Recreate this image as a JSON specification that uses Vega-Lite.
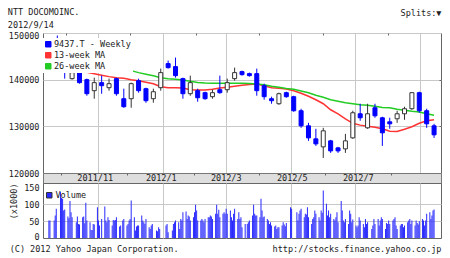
{
"$schema": "https://vega.github.io/schema/vega-lite/v6.json",
"background": "white",
"padding": {"left": 7, "right": 10, "top": 8, "bottom": 0},
"spacing": 0,
"bounds": "flush",
"title": {"text": "NTT DOCOMOINC.", "subtitle": "2012/9/14", "anchor": "start", "frame": "bounds", "offset": -21, "subtitlePadding": 4},
"datasets": {
"weekly": [
{"d":"2011-09-16","o":144090,"h":146020,"l":143660,"c":145590},
{"d":"2011-09-23","o":146500,"h":149460,"l":142800,"c":143800},
{"d":"2011-09-30","o":144800,"h":145600,"l":140220,"c":142800},
{"d":"2011-10-07","o":140220,"h":142370,"l":140000,"c":141510},
{"d":"2011-10-14","o":142150,"h":142370,"l":139140,"c":139360},
{"d":"2011-10-21","o":140000,"h":140220,"l":136560,"c":136990},
{"d":"2011-10-28","o":137640,"h":140430,"l":135920,"c":139360},
{"d":"2011-11-04","o":139360,"h":140860,"l":136990,"c":138710},
{"d":"2011-11-11","o":138280,"h":140220,"l":137640,"c":139140},
{"d":"2011-11-18","o":140220,"h":140430,"l":136560,"c":136990},
{"d":"2011-11-25","o":135920,"h":138070,"l":133980,"c":134200},
{"d":"2011-12-02","o":135920,"h":139360,"l":133980,"c":139140},
{"d":"2011-12-09","o":139790,"h":140220,"l":137210,"c":137640},
{"d":"2011-12-16","o":138070,"h":138280,"l":135060,"c":135490},
{"d":"2011-12-23","o":135920,"h":138070,"l":135060,"c":137420},
{"d":"2011-12-30","o":138280,"h":142370,"l":137640,"c":141510},
{"d":"2012-01-06","o":143440,"h":144090,"l":142370,"c":142580},
{"d":"2012-01-13","o":142800,"h":144730,"l":140430,"c":140860},
{"d":"2012-01-20","o":140220,"h":140430,"l":135920,"c":136990},
{"d":"2012-01-27","o":136990,"h":140860,"l":136560,"c":139360},
{"d":"2012-02-03","o":137640,"h":138070,"l":135270,"c":136130},
{"d":"2012-02-10","o":137210,"h":137420,"l":135700,"c":135920},
{"d":"2012-02-17","o":136350,"h":137850,"l":135920,"c":137210},
{"d":"2012-02-24","o":137850,"h":140860,"l":136990,"c":137210},
{"d":"2012-03-02","o":137850,"h":140220,"l":137210,"c":139360},
{"d":"2012-03-09","o":140220,"h":142580,"l":139790,"c":141510},
{"d":"2012-03-16","o":141720,"h":141940,"l":140860,"c":141080},
{"d":"2012-03-23","o":141290,"h":141510,"l":140650,"c":140860},
{"d":"2012-03-30","o":141290,"h":142370,"l":136560,"c":137640},
{"d":"2012-04-06","o":138710,"h":139140,"l":135700,"c":136350},
{"d":"2012-04-13","o":135920,"h":136350,"l":134840,"c":135490},
{"d":"2012-04-20","o":134840,"h":137210,"l":134630,"c":136990},
{"d":"2012-04-27","o":137210,"h":137420,"l":136130,"c":136350},
{"d":"2012-05-04","o":136350,"h":136560,"l":133120,"c":133340},
{"d":"2012-05-11","o":133340,"h":133770,"l":129680,"c":130110},
{"d":"2012-05-18","o":130110,"h":130760,"l":126890,"c":127530},
{"d":"2012-05-25","o":127320,"h":129470,"l":125810,"c":126240},
{"d":"2012-06-01","o":125600,"h":129680,"l":123230,"c":129040},
{"d":"2012-06-08","o":126890,"h":127100,"l":124310,"c":124740},
{"d":"2012-06-15","o":125380,"h":125600,"l":124310,"c":124740},
{"d":"2012-06-22","o":125170,"h":128390,"l":124310,"c":126890},
{"d":"2012-06-29","o":127530,"h":133340,"l":127320,"c":132910},
{"d":"2012-07-06","o":132690,"h":134840,"l":131190,"c":131830},
{"d":"2012-07-13","o":129680,"h":134840,"l":129470,"c":132690},
{"d":"2012-07-20","o":133980,"h":134840,"l":131830,"c":132260},
{"d":"2012-07-27","o":131830,"h":132050,"l":125810,"c":128610},
{"d":"2012-08-03","o":130970,"h":131830,"l":129470,"c":130540},
{"d":"2012-08-10","o":131620,"h":133340,"l":130760,"c":132690},
{"d":"2012-08-17","o":132690,"h":134200,"l":131400,"c":133770},
{"d":"2012-08-24","o":133770,"h":137210,"l":133550,"c":137210},
{"d":"2012-08-31","o":137210,"h":137420,"l":132910,"c":133340},
{"d":"2012-09-07","o":133340,"h":133770,"l":129680,"c":130540},
{"d":"2012-09-14","o":130110,"h":130540,"l":127530,"c":128180}
],
"ma": [
{"d":"2011-09-16","s":"13-week MA","v":141760},{"d":"2011-09-23","s":"13-week MA","v":141980},{"d":"2011-09-30","s":"13-week MA","v":142150},{"d":"2011-10-07","s":"13-week MA","v":142110},{"d":"2011-10-14","s":"13-week MA","v":141940},{"d":"2011-10-21","s":"13-week MA","v":141610},{"d":"2011-10-28","s":"13-week MA","v":141290},{"d":"2011-11-04","s":"13-week MA","v":140970},{"d":"2011-11-11","s":"13-week MA","v":140650},{"d":"2011-11-18","s":"13-week MA","v":140430},{"d":"2011-11-25","s":"13-week MA","v":140280},{"d":"2011-12-02","s":"13-week MA","v":140000},{"d":"2011-12-09","s":"13-week MA","v":139790},{"d":"2011-12-16","s":"13-week MA","v":139460},{"d":"2011-12-23","s":"13-week MA","v":139140},{"d":"2011-12-30","s":"13-week MA","v":138500},{"d":"2012-01-06","s":"13-week MA","v":138280},{"d":"2012-01-13","s":"13-week MA","v":138280},{"d":"2012-01-20","s":"13-week MA","v":138220},{"d":"2012-01-27","s":"13-week MA","v":137850},{"d":"2012-02-03","s":"13-week MA","v":137790},{"d":"2012-02-10","s":"13-week MA","v":137790},{"d":"2012-02-17","s":"13-week MA","v":137960},{"d":"2012-02-24","s":"13-week MA","v":138220},{"d":"2012-03-02","s":"13-week MA","v":138390},{"d":"2012-03-09","s":"13-week MA","v":138600},{"d":"2012-03-16","s":"13-week MA","v":138820},{"d":"2012-03-23","s":"13-week MA","v":138970},{"d":"2012-03-30","s":"13-week MA","v":139080},{"d":"2012-04-06","s":"13-week MA","v":138710},{"d":"2012-04-13","s":"13-week MA","v":138280},{"d":"2012-04-20","s":"13-week MA","v":138170},{"d":"2012-04-27","s":"13-week MA","v":138000},{"d":"2012-05-04","s":"13-week MA","v":137640},{"d":"2012-05-11","s":"13-week MA","v":137100},{"d":"2012-05-18","s":"13-week MA","v":136450},{"d":"2012-05-25","s":"13-week MA","v":135700},{"d":"2012-06-01","s":"13-week MA","v":134840},{"d":"2012-06-08","s":"13-week MA","v":133550},{"d":"2012-06-15","s":"13-week MA","v":132690},{"d":"2012-06-22","s":"13-week MA","v":131620},{"d":"2012-06-29","s":"13-week MA","v":130650},{"d":"2012-07-06","s":"13-week MA","v":130260},{"d":"2012-07-13","s":"13-week MA","v":130000},{"d":"2012-07-20","s":"13-week MA","v":129790},{"d":"2012-07-27","s":"13-week MA","v":129470},{"d":"2012-08-03","s":"13-week MA","v":128930},{"d":"2012-08-10","s":"13-week MA","v":128890},{"d":"2012-08-17","s":"13-week MA","v":129360},{"d":"2012-08-24","s":"13-week MA","v":129900},{"d":"2012-08-31","s":"13-week MA","v":130650},{"d":"2012-09-07","s":"13-week MA","v":131190},{"d":"2012-09-14","s":"13-week MA","v":131400},
{"d":"2011-09-16","s":"26-week MA","v":144730},{"d":"2011-09-23","s":"26-week MA","v":144520},{"d":"2011-09-30","s":"26-week MA","v":144190},{"d":"2011-10-07","s":"26-week MA","v":143870},{"d":"2011-10-14","s":"26-week MA","v":143550},{"d":"2011-10-21","s":"26-week MA","v":143230},{"d":"2011-10-28","s":"26-week MA","v":143010},{"d":"2011-11-04","s":"26-week MA","v":142800},{"d":"2011-11-11","s":"26-week MA","v":142580},{"d":"2011-11-18","s":"26-week MA","v":142370},{"d":"2011-11-25","s":"26-week MA","v":142150},{"d":"2011-12-02","s":"26-week MA","v":141940},{"d":"2011-12-09","s":"26-week MA","v":141510},{"d":"2011-12-16","s":"26-week MA","v":141180},{"d":"2011-12-23","s":"26-week MA","v":140860},{"d":"2011-12-30","s":"26-week MA","v":140430},{"d":"2012-01-06","s":"26-week MA","v":140220},{"d":"2012-01-13","s":"26-week MA","v":140110},{"d":"2012-01-20","s":"26-week MA","v":139940},{"d":"2012-01-27","s":"26-week MA","v":139640},{"d":"2012-02-03","s":"26-week MA","v":139400},{"d":"2012-02-10","s":"26-week MA","v":139290},{"d":"2012-02-17","s":"26-week MA","v":139250},{"d":"2012-02-24","s":"26-week MA","v":139210},{"d":"2012-03-02","s":"26-week MA","v":139210},{"d":"2012-03-09","s":"26-week MA","v":139210},{"d":"2012-03-16","s":"26-week MA","v":139210},{"d":"2012-03-23","s":"26-week MA","v":139180},{"d":"2012-03-30","s":"26-week MA","v":139080},{"d":"2012-04-06","s":"26-week MA","v":138930},{"d":"2012-04-13","s":"26-week MA","v":138600},{"d":"2012-04-20","s":"26-week MA","v":138390},{"d":"2012-04-27","s":"26-week MA","v":138110},{"d":"2012-05-04","s":"26-week MA","v":137960},{"d":"2012-05-11","s":"26-week MA","v":137570},{"d":"2012-05-18","s":"26-week MA","v":137210},{"d":"2012-05-25","s":"26-week MA","v":136670},{"d":"2012-06-01","s":"26-week MA","v":136240},{"d":"2012-06-08","s":"26-week MA","v":135700},{"d":"2012-06-15","s":"26-week MA","v":135380},{"d":"2012-06-22","s":"26-week MA","v":135060},{"d":"2012-06-29","s":"26-week MA","v":134840},{"d":"2012-07-06","s":"26-week MA","v":134630},{"d":"2012-07-13","s":"26-week MA","v":134520},{"d":"2012-07-20","s":"26-week MA","v":134300},{"d":"2012-07-27","s":"26-week MA","v":134050},{"d":"2012-08-03","s":"26-week MA","v":133980},{"d":"2012-08-10","s":"26-week MA","v":133660},{"d":"2012-08-17","s":"26-week MA","v":133440},{"d":"2012-08-24","s":"26-week MA","v":133230},{"d":"2012-08-31","s":"26-week MA","v":133080},{"d":"2012-09-07","s":"26-week MA","v":132690},{"d":"2012-09-14","s":"26-week MA","v":132370}
],
"daily": [
{"d":"2011-09-15","v":52},{"d":"2011-09-16","v":52},{"d":"2011-09-20","v":52},{"d":"2011-09-21","v":67},{"d":"2011-09-22","v":87},{"d":"2011-09-26","v":137},{"d":"2011-09-27","v":120},{"d":"2011-09-28","v":117},{"d":"2011-09-29","v":82},{"d":"2011-09-30","v":85},
{"d":"2011-10-03","v":64},{"d":"2011-10-04","v":59},{"d":"2011-10-05","v":110},{"d":"2011-10-06","v":77},{"d":"2011-10-07","v":62},{"d":"2011-10-11","v":47},{"d":"2011-10-12","v":64},{"d":"2011-10-13","v":42},{"d":"2011-10-14","v":40},{"d":"2011-10-17","v":62},{"d":"2011-10-18","v":64},{"d":"2011-10-19","v":44},{"d":"2011-10-20","v":105},{"d":"2011-10-21","v":52},{"d":"2011-10-24","v":47},{"d":"2011-10-25","v":24},{"d":"2011-10-26","v":24},{"d":"2011-10-27","v":42},{"d":"2011-10-28","v":40},{"d":"2011-10-31","v":92},
{"d":"2011-11-01","v":52},{"d":"2011-11-02","v":37},{"d":"2011-11-04","v":57},{"d":"2011-11-07","v":94},{"d":"2011-11-08","v":52},{"d":"2011-11-09","v":47},{"d":"2011-11-10","v":62},{"d":"2011-11-11","v":54},{"d":"2011-11-14","v":37},{"d":"2011-11-15","v":54},{"d":"2011-11-16","v":52},{"d":"2011-11-17","v":54},{"d":"2011-11-18","v":62},{"d":"2011-11-21","v":34},{"d":"2011-11-22","v":37},{"d":"2011-11-24","v":52},{"d":"2011-11-25","v":57},{"d":"2011-11-28","v":37},{"d":"2011-11-29","v":42},{"d":"2011-11-30","v":52},
{"d":"2011-12-01","v":57},{"d":"2011-12-02","v":112},{"d":"2011-12-05","v":62},{"d":"2011-12-06","v":22},{"d":"2011-12-07","v":34},{"d":"2011-12-08","v":37},{"d":"2011-12-09","v":37},{"d":"2011-12-12","v":67},{"d":"2011-12-13","v":52},{"d":"2011-12-14","v":47},{"d":"2011-12-15","v":42},{"d":"2011-12-16","v":57},{"d":"2011-12-19","v":32},{"d":"2011-12-20","v":27},{"d":"2011-12-21","v":37},{"d":"2011-12-22","v":42},{"d":"2011-12-26","v":22},{"d":"2011-12-27","v":20},{"d":"2011-12-28","v":32},{"d":"2011-12-29","v":27},
{"d":"2012-01-04","v":37},{"d":"2012-01-05","v":42},{"d":"2012-01-06","v":17},{"d":"2012-01-10","v":22},{"d":"2012-01-11","v":42},{"d":"2012-01-12","v":47},{"d":"2012-01-13","v":52},{"d":"2012-01-16","v":47},{"d":"2012-01-17","v":27},{"d":"2012-01-18","v":57},{"d":"2012-01-19","v":52},{"d":"2012-01-20","v":77},{"d":"2012-01-23","v":79},{"d":"2012-01-24","v":57},{"d":"2012-01-25","v":67},{"d":"2012-01-26","v":64},{"d":"2012-01-27","v":52},{"d":"2012-01-30","v":62},{"d":"2012-01-31","v":77},
{"d":"2012-02-01","v":99},{"d":"2012-02-02","v":82},{"d":"2012-02-03","v":52},{"d":"2012-02-06","v":52},{"d":"2012-02-07","v":57},{"d":"2012-02-08","v":52},{"d":"2012-02-09","v":47},{"d":"2012-02-10","v":57},{"d":"2012-02-13","v":62},{"d":"2012-02-14","v":62},{"d":"2012-02-15","v":67},{"d":"2012-02-16","v":64},{"d":"2012-02-17","v":57},{"d":"2012-02-20","v":72},{"d":"2012-02-21","v":99},{"d":"2012-02-22","v":72},{"d":"2012-02-23","v":84},{"d":"2012-02-24","v":62},{"d":"2012-02-27","v":72},{"d":"2012-02-28","v":77},{"d":"2012-02-29","v":72},
{"d":"2012-03-01","v":87},{"d":"2012-03-02","v":72},{"d":"2012-03-05","v":82},{"d":"2012-03-06","v":62},{"d":"2012-03-07","v":52},{"d":"2012-03-08","v":72},{"d":"2012-03-09","v":87},{"d":"2012-03-12","v":57},{"d":"2012-03-13","v":77},{"d":"2012-03-14","v":57},{"d":"2012-03-15","v":62},{"d":"2012-03-16","v":32},{"d":"2012-03-19","v":42},{"d":"2012-03-21","v":42},{"d":"2012-03-22","v":47},{"d":"2012-03-23","v":52},{"d":"2012-03-26","v":67},{"d":"2012-03-27","v":99},{"d":"2012-03-28","v":72},{"d":"2012-03-29","v":67},{"d":"2012-03-30","v":67},
{"d":"2012-04-02","v":62},{"d":"2012-04-03","v":117},{"d":"2012-04-04","v":82},{"d":"2012-04-05","v":62},{"d":"2012-04-06","v":64},{"d":"2012-04-09","v":57},{"d":"2012-04-10","v":52},{"d":"2012-04-11","v":42},{"d":"2012-04-12","v":47},{"d":"2012-04-13","v":37},{"d":"2012-04-16","v":34},{"d":"2012-04-17","v":37},{"d":"2012-04-18","v":27},{"d":"2012-04-19","v":32},{"d":"2012-04-20","v":32},{"d":"2012-04-23","v":37},{"d":"2012-04-24","v":47},{"d":"2012-04-25","v":40},{"d":"2012-04-26","v":35},{"d":"2012-04-27","v":45},
{"d":"2012-05-01","v":92},{"d":"2012-05-02","v":87},{"d":"2012-05-07","v":77},{"d":"2012-05-08","v":52},{"d":"2012-05-09","v":72},{"d":"2012-05-10","v":82},{"d":"2012-05-11","v":87},{"d":"2012-05-14","v":62},{"d":"2012-05-15","v":72},{"d":"2012-05-16","v":70},{"d":"2012-05-17","v":92},{"d":"2012-05-18","v":62},{"d":"2012-05-21","v":42},{"d":"2012-05-22","v":57},{"d":"2012-05-23","v":62},{"d":"2012-05-24","v":82},{"d":"2012-05-25","v":72},{"d":"2012-05-28","v":62},{"d":"2012-05-29","v":52},{"d":"2012-05-30","v":82},{"d":"2012-05-31","v":75},
{"d":"2012-06-01","v":142},{"d":"2012-06-04","v":102},{"d":"2012-06-05","v":67},{"d":"2012-06-06","v":82},{"d":"2012-06-07","v":62},{"d":"2012-06-08","v":72},{"d":"2012-06-11","v":57},{"d":"2012-06-12","v":52},{"d":"2012-06-13","v":62},{"d":"2012-06-14","v":77},{"d":"2012-06-15","v":47},{"d":"2012-06-18","v":110},{"d":"2012-06-19","v":82},{"d":"2012-06-20","v":52},{"d":"2012-06-21","v":47},{"d":"2012-06-22","v":57},{"d":"2012-06-25","v":42},{"d":"2012-06-26","v":82},{"d":"2012-06-27","v":72},{"d":"2012-06-28","v":47},{"d":"2012-06-29","v":55},
{"d":"2012-07-02","v":37},{"d":"2012-07-03","v":32},{"d":"2012-07-04","v":37},{"d":"2012-07-05","v":62},{"d":"2012-07-06","v":52},{"d":"2012-07-09","v":42},{"d":"2012-07-10","v":32},{"d":"2012-07-11","v":57},{"d":"2012-07-12","v":42},{"d":"2012-07-13","v":47},{"d":"2012-07-17","v":27},{"d":"2012-07-18","v":37},{"d":"2012-07-19","v":57},{"d":"2012-07-20","v":42},{"d":"2012-07-23","v":57},{"d":"2012-07-24","v":37},{"d":"2012-07-25","v":52},{"d":"2012-07-26","v":62},{"d":"2012-07-27","v":57},{"d":"2012-07-30","v":27},{"d":"2012-07-31","v":45},
{"d":"2012-08-01","v":42},{"d":"2012-08-02","v":52},{"d":"2012-08-03","v":42},{"d":"2012-08-06","v":52},{"d":"2012-08-07","v":57},{"d":"2012-08-08","v":62},{"d":"2012-08-09","v":37},{"d":"2012-08-10","v":27},{"d":"2012-08-13","v":37},{"d":"2012-08-14","v":42},{"d":"2012-08-15","v":42},{"d":"2012-08-16","v":32},{"d":"2012-08-17","v":37},{"d":"2012-08-20","v":47},{"d":"2012-08-21","v":52},{"d":"2012-08-22","v":57},{"d":"2012-08-23","v":42},{"d":"2012-08-24","v":52},{"d":"2012-08-27","v":37},{"d":"2012-08-28","v":52},{"d":"2012-08-29","v":45},{"d":"2012-08-30","v":40},{"d":"2012-08-31","v":50},
{"d":"2012-09-03","v":57},{"d":"2012-09-04","v":52},{"d":"2012-09-05","v":37},{"d":"2012-09-06","v":52},{"d":"2012-09-07","v":72},{"d":"2012-09-10","v":77},{"d":"2012-09-11","v":57},{"d":"2012-09-12","v":67},{"d":"2012-09-13","v":82},{"d":"2012-09-14","v":85}
]
},
"vconcat": [
{
"width": 398, "height": 140,
"title": {"text": "Splits:\u25bc", "anchor": "end", "offset": 14.5},
"resolve": {"axis": {"x": "independent", "y": "independent"}},
"layer": [
{"data": {"name": "ma"},
 "mark": {"type": "line", "strokeWidth": 1.5},
 "encoding": {
  "x": {"field": "d", "type": "temporal", "title": null,
        "scale": {"type": "utc", "domain": [{"year":2011,"month":9,"date":14,"hours":4,"utc":true},{"year":2012,"month":9,"date":15,"hours":20,"utc":true}]},
        "axis": {"values": [{"year":2011,"month":11,"date":1,"utc":true},{"year":2012,"month":1,"date":1,"utc":true},{"year":2012,"month":3,"date":1,"utc":true},{"year":2012,"month":5,"date":1,"utc":true},{"year":2012,"month":7,"date":1,"utc":true},{"year":2012,"month":9,"date":1,"utc":true}], "labels": false, "grid": true}},
  "y": {"field": "v", "type": "quantitative", "title": null,
        "scale": {"domain": [120000, 150000], "nice": false, "zero": false},
        "axis": {"values": [120000, 130000, 140000, 150000], "format": "d", "grid": true, "labelOffset": {"condition": {"test": "datum.value == 150000", "value": 2.5}, "value": 0}}},
  "color": {"field": "s", "type": "nominal",
        "scale": {"domain": ["9437.T - Weekly", "13-week MA", "26-week MA"], "range": ["#0000ff", "#ff3333", "#22cc22"]},
        "legend": {"orient": "none", "legendX": -1, "legendY": 5, "title": null, "padding": 2, "rowPadding": 1, "fillColor": "white", "symbolType": "square", "symbolSize": 30, "symbolStrokeWidth": 1, "labelOffset": 1.5,
                   "encode": {"symbols": {"update": {"fill": {"signal": "datum.value == '13-week MA' ? '#ff3333' : datum.value == '26-week MA' ? '#22cc22' : '#0000ff'"}, "stroke": {"value": "#333333"}, "strokeWidth": {"value": 1}}}}}}
 }},
{"data": {"name": "weekly"},
 "mark": {"type": "rule", "strokeWidth": 1},
 "encoding": {
  "x": {"field": "d", "type": "temporal", "title": null,
        "axis": {"orient": "top", "values": [{"year":2011,"month":10,"date":1,"utc":true},{"year":2011,"month":12,"date":1,"utc":true},{"year":2012,"month":2,"date":1,"utc":true},{"year":2012,"month":4,"date":1,"utc":true},{"year":2012,"month":6,"date":1,"utc":true},{"year":2012,"month":8,"date":1,"utc":true}], "labels": false, "grid": false, "ticks": true, "tickSize": -2, "tickColor": "#666666"}},
  "y": {"field": "l", "type": "quantitative", "title": null,
        "axis": {"orient": "right", "values": [130000, 140000], "labels": false, "grid": false, "ticks": true, "tickSize": -2, "tickColor": "#666666"}},
  "y2": {"field": "h"},
  "stroke": {"condition": {"test": "datum.c >= datum.o", "value": "#333333"}, "value": "#0000ff"}
 }},
{"data": {"name": "weekly"},
 "mark": {"type": "bar", "width": 4, "strokeWidth": 1},
 "encoding": {
  "x": {"field": "d", "type": "temporal", "title": null, "axis": null},
  "y": {"field": "o", "type": "quantitative", "title": null, "axis": null},
  "y2": {"field": "c"},
  "fill": {"condition": {"test": "datum.c >= datum.o", "value": "#ffffff"}, "value": "#0000ff"},
  "stroke": {"condition": {"test": "datum.c >= datum.o", "value": "#333333"}, "value": "#0000ff"}
 }}
]
},
{
"width": 398, "height": 10,
"view": {"fill": "#dedede", "stroke": "#777777"},
"data": {"name": "weekly"},
"mark": {"type": "point", "opacity": 0},
"encoding": {
 "x": {"field": "d", "type": "temporal", "title": null,
       "scale": {"type": "utc", "domain": [{"year":2011,"month":9,"date":14,"hours":4,"utc":true},{"year":2012,"month":9,"date":15,"hours":20,"utc":true}]},
       "axis": {"orient": "top",
                "values": [{"year":2011,"month":10,"date":1,"utc":true},{"year":2011,"month":11,"date":1,"utc":true},{"year":2011,"month":12,"date":1,"utc":true},{"year":2012,"month":1,"date":1,"utc":true},{"year":2012,"month":2,"date":1,"utc":true},{"year":2012,"month":3,"date":1,"utc":true},{"year":2012,"month":4,"date":1,"utc":true},{"year":2012,"month":5,"date":1,"utc":true},{"year":2012,"month":6,"date":1,"utc":true},{"year":2012,"month":7,"date":1,"utc":true},{"year":2012,"month":8,"date":1,"utc":true},{"year":2012,"month":9,"date":1,"utc":true}],
                "labelExpr": "(utcmonth(datum.value) % 2 == 0 && utcmonth(datum.value) != 8) ? utcFormat(datum.value, '%Y/%-m') : ''",
                "labelOverlap": false, "grid": false,
                "ticks": true, "tickSize": -2, "tickColor": "#666666",
                "tickOpacity": {"condition": {"test": "utcmonth(datum.value) % 2 == 1", "value": 1}, "value": 0},
                "labelPadding": -7.5, "labelBaseline": "bottom"}}
}
},
{
"width": 398, "height": 55,
"data": {"name": "daily"},
"title": {"text": "(C) 2012 Yahoo Japan Corporation.", "orient": "bottom", "anchor": "start", "frame": "bounds", "offset": 0, "dy": -8},
"mark": {"type": "bar", "width": 1},
"encoding": {
 "x": {"field": "d", "type": "temporal",
       "scale": {"type": "utc", "domain": [{"year":2011,"month":9,"date":14,"hours":4,"utc":true},{"year":2012,"month":9,"date":15,"hours":20,"utc":true}]},
       "axis": {"values": [{"year":2011,"month":11,"date":1,"utc":true},{"year":2012,"month":1,"date":1,"utc":true},{"year":2012,"month":3,"date":1,"utc":true},{"year":2012,"month":5,"date":1,"utc":true},{"year":2012,"month":7,"date":1,"utc":true},{"year":2012,"month":9,"date":1,"utc":true}], "labels": false, "grid": true, "title": "http://stocks.finance.yahoo.co.jp", "titleAnchor": "end", "titlePadding": 6}},
 "y": {"field": "v", "type": "quantitative",
       "scale": {"domain": [0, 164], "nice": false},
       "axis": {"values": [0, 50, 100, 150], "title": "(x1000)", "titlePadding": 5, "titleAnchor": "end", "grid": true,
                "labelOffset": {"condition": {"test": "datum.value == 0", "value": -1.5}, "value": 0},
                "gridOpacity": {"condition": {"test": "datum.value == 50 || datum.value == 100", "value": 1}, "value": 0}}},
 "color": {"datum": "Volume", "type": "nominal", "scale": {"range": ["#2a2aff"]},
       "legend": {"orient": "none", "legendX": 0, "legendY": 6, "title": null, "padding": 2, "symbolType": "square", "symbolSize": 30, "symbolStrokeColor": "#333333", "symbolStrokeWidth": 1, "labelOffset": 2}}
}
}
],
"resolve": {"scale": {"color": "independent", "x": "independent", "y": "independent"}, "legend": {"color": "independent"}},
"config": {
 "font": "DejaVu Sans Mono",
 "view": {"stroke": "#666666", "strokeWidth": 1},
 "axis": {"labelFont": "DejaVu Sans Mono", "labelFontSize": 8.5, "labelColor": "#222222", "titleFont": "DejaVu Sans Mono", "titleFontSize": 8.5, "titleFontWeight": "normal", "titleColor": "#222222", "gridColor": "#c8c8c8", "domain": false, "ticks": false, "labelPadding": 4},
 "legend": {"labelFont": "DejaVu Sans Mono", "labelFontSize": 8.5, "labelColor": "#222222"},
 "title": {"font": "DejaVu Sans Mono", "fontSize": 8.5, "fontWeight": "normal", "color": "#222222", "subtitleFont": "DejaVu Sans Mono", "subtitleFontSize": 8.5, "subtitleColor": "#222222", "subtitlePadding": 2}
}
}
